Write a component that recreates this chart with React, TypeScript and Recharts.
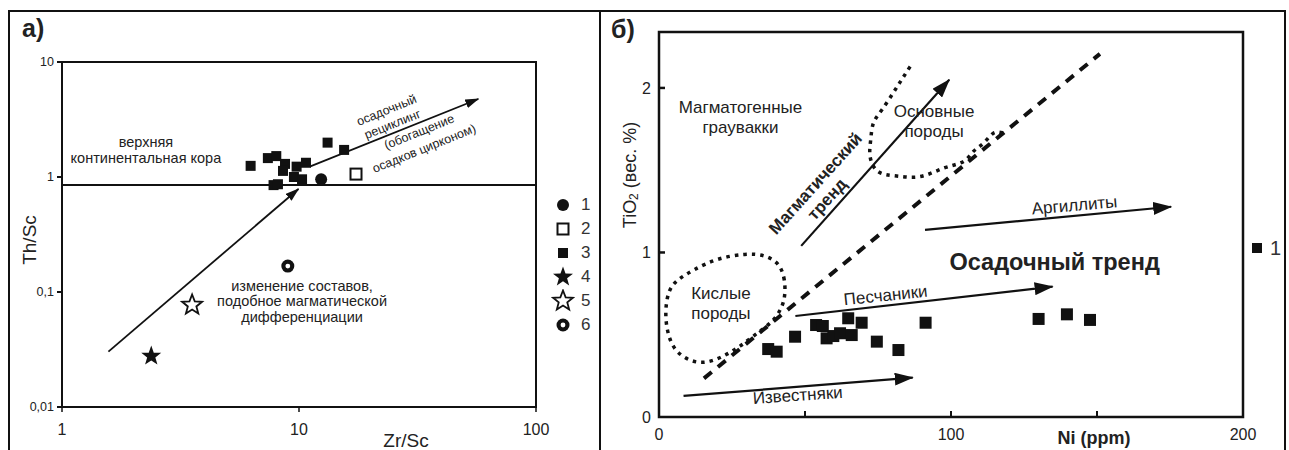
import React from 'react';
import { ScatterChart, Scatter, XAxis, YAxis, ReferenceLine, ReferenceArea } from 'recharts';

const INK = '#111';
const TXT = '#222';
const FONT = '"Liberation Sans", Arial, Helvetica, sans-serif';

// ---------- а) Th/Sc vs Zr/Sc ----------
const ZR_TICKS = [1, 10, 100];
const TH_TICKS = [0.01, 0.1, 1, 10];
const TH_LABELS = ['0,01', '0,1', '1', '10'];

const POINTS_1 = [{ x: 12.4, y: 0.955 }];
const POINTS_2 = [{ x: 17.4, y: 1.06 }];
const POINTS_3 = [
  { x: 6.25, y: 1.25 }, { x: 7.39, y: 1.46 }, { x: 8.02, y: 1.52 }, { x: 8.73, y: 1.3 },
  { x: 8.56, y: 1.13 }, { x: 9.77, y: 1.23 }, { x: 10.7, y: 1.33 }, { x: 9.52, y: 1.0 },
  { x: 10.3, y: 0.955 }, { x: 7.81, y: 0.85 }, { x: 8.15, y: 0.865 }, { x: 13.2, y: 1.99 },
  { x: 15.5, y: 1.72 },
];
const POINTS_4 = [{ x: 2.38, y: 0.0277 }];
const POINTS_5 = [{ x: 3.54, y: 0.077 }];
const POINTS_6 = [{ x: 8.97, y: 0.168 }];

const UPPER_CRUST = 0.85;
const ARROW_MAGMATIC_A = [{ x: 1.57, y: 0.0303 }, { x: 9.95, y: 0.787 }];
const ARROW_RECYCLING = [{ x: 11.1, y: 1.23 }, { x: 57.1, y: 4.77 }];

const NOTES_A = [
  { x: 2.26, y: 1.72, lines: ['верхняя', 'континентальная кора'], kind: 'mid', angle: 0 },
  { x: 23.4, y: 3.83, lines: ['осадочный'], kind: 'small', angle: -22 },
  { x: 24.8, y: 2.89, lines: ['рециклинг'], kind: 'small', angle: -22 },
  { x: 32.1, y: 2.48, lines: ['(обогащение'], kind: 'small', angle: -22 },
  { x: 33.7, y: 1.78, lines: ['осадков цирконом)'], kind: 'small', angle: -22 },
  { x: 10.3, y: 0.0835, lines: ['изменение составов,', 'подобное магматической', 'дифференциации'], kind: 'mid', angle: 0 },
];

const SERIES_A = [
  { name: '1', data: POINTS_1, symbol: 'circle' },
  { name: '2', data: POINTS_2, symbol: 'openSquare' },
  { name: '3', data: POINTS_3, symbol: 'square' },
  { name: '4', data: POINTS_4, symbol: 'star' },
  { name: '5', data: POINTS_5, symbol: 'openStar' },
  { name: '6', data: POINTS_6, symbol: 'target' },
];

// ---------- б) TiO2 vs Ni ----------
const NI_TICKS = [0, 50, 100, 150, 200];
const TIO2_TICKS = [0, 1, 2];

const SANDSTONES = [
  { x: 37.4, y: 0.413 }, { x: 40.3, y: 0.397 }, { x: 46.6, y: 0.488 }, { x: 53.8, y: 0.559 },
  { x: 56.1, y: 0.553 }, { x: 57.4, y: 0.478 }, { x: 59.7, y: 0.492 }, { x: 62.0, y: 0.509 },
  { x: 64.8, y: 0.6 }, { x: 69.4, y: 0.573 }, { x: 66.0, y: 0.498 }, { x: 74.6, y: 0.458 },
  { x: 82.0, y: 0.407 }, { x: 91.3, y: 0.573 }, { x: 130.0, y: 0.596 }, { x: 139.7, y: 0.624 },
  { x: 147.6, y: 0.59 },
];

const DIVIDE_LINE = [{ x: 15.4, y: 0.235 }, { x: 151, y: 2.207 }];
const ARROW_MAGMATIC_B = [{ x: 48.7, y: 1.04 }, { x: 99.4, y: 2.05 }];
const ARROW_MUDSTONES = [{ x: 91.1, y: 1.137 }, { x: 175.4, y: 1.278 }];
const ARROW_SANDSTONES = [{ x: 46.7, y: 0.614 }, { x: 134.8, y: 0.792 }];
const ARROW_LIMESTONES = [{ x: 8.4, y: 0.128 }, { x: 86.9, y: 0.239 }];

const MAFIC_FIELD = [
  { x: 86.0, y: 2.13 }, { x: 83.1, y: 2.05 }, { x: 80.2, y: 1.97 }, { x: 76.3, y: 1.866 },
  { x: 73.4, y: 1.785 }, { x: 72.5, y: 1.684 }, { x: 72.3, y: 1.582 }, { x: 75.1, y: 1.491 },
  { x: 81.4, y: 1.465 }, { x: 89.4, y: 1.461 }, { x: 97.4, y: 1.512 }, { x: 104.2, y: 1.552 },
  { x: 107.6, y: 1.613 }, { x: 111.1, y: 1.664 }, { x: 114.5, y: 1.725 }, { x: 117.8, y: 1.726 },
];
const FELSIC_FIELD = [
  { x: 43.2, y: 0.731 }, { x: 43.2, y: 0.833 }, { x: 41.4, y: 0.934 }, { x: 36.3, y: 0.985 },
  { x: 30.0, y: 0.995 }, { x: 19.8, y: 0.965 }, { x: 11.7, y: 0.894 }, { x: 6.1, y: 0.833 },
  { x: 3.2, y: 0.772 }, { x: 2.1, y: 0.65 }, { x: 2.6, y: 0.529 }, { x: 4.9, y: 0.407 },
  { x: 10.6, y: 0.336 }, { x: 16.3, y: 0.326 }, { x: 22.0, y: 0.367 }, { x: 27.7, y: 0.427 },
  { x: 33.5, y: 0.509 }, { x: 39.1, y: 0.579 }, { x: 42.0, y: 0.661 },
];

const NOTES_B = [
  { x: 27.9, y: 1.826, lines: ['Магматогенные', 'граувакки'], kind: 'text', angle: 0 },
  { x: 94.2, y: 1.8, lines: ['Основные', 'породы'], kind: 'text', angle: 0 },
  { x: 53.5, y: 1.42, lines: ['Магматический'], kind: 'bold', angle: -48 },
  { x: 57.5, y: 1.325, lines: ['тренд'], kind: 'bold', angle: -48 },
  { x: 142.3, y: 1.289, lines: ['Аргиллиты'], kind: 'text', angle: -5 },
  { x: 135.5, y: 0.944, lines: ['Осадочный тренд'], kind: 'big', angle: 0 },
  { x: 21.2, y: 0.691, lines: ['Кислые', 'породы'], kind: 'text', angle: 0 },
  { x: 77.6, y: 0.742, lines: ['Песчаники'], kind: 'text', angle: -6 },
  { x: 47.5, y: 0.134, lines: ['Известняки'], kind: 'text', angle: -4 },
];

const NOTE_STYLE: Record<string, { size: number; lh: number; weight: number }> = {
  small: { size: 12.5, lh: 14, weight: 400 },
  mid: { size: 14.5, lh: 15.5, weight: 400 },
  text: { size: 17, lh: 20, weight: 400 },
  bold: { size: 17, lh: 18, weight: 700 },
  big: { size: 23.5, lh: 26, weight: 700 },
};

// ---------- shapes ----------
const starPath = (cx: number, cy: number, R: number, r: number) => {
  let d = '';
  for (let i = 0; i < 10; i++) {
    const a = -Math.PI / 2 + (i * Math.PI) / 5;
    const rad = i % 2 ? r : R;
    d += (i ? 'L' : 'M') + (cx + rad * Math.cos(a)).toFixed(2) + ',' + (cy + rad * Math.sin(a)).toFixed(2);
  }
  return d + 'Z';
};

const SYMBOLS: Record<string, (cx: number, cy: number) => React.ReactElement> = {
  circle: (cx, cy) => <circle cx={cx} cy={cy} r={6} fill={INK} />,
  openSquare: (cx, cy) => (
    <rect x={cx - 5.5} y={cy - 5.5} width={11} height={11} fill="#fff" stroke={INK} strokeWidth={2} />
  ),
  square: (cx, cy) => <rect x={cx - 5} y={cy - 5} width={10} height={10} fill={INK} />,
  bigSquare: (cx, cy) => <rect x={cx - 6} y={cy - 6} width={12} height={12} fill={INK} />,
  star: (cx, cy) => <path d={starPath(cx, cy, 10.5, 4.3)} fill={INK} />,
  openStar: (cx, cy) => <path d={starPath(cx, cy, 10.5, 4.5)} fill="#fff" stroke={INK} strokeWidth={1.8} />,
  target: (cx, cy) => (
    <g>
      <circle cx={cx} cy={cy} r={6.5} fill={INK} />
      <circle cx={cx} cy={cy} r={2.4} fill="#fff" />
    </g>
  ),
};

const symbolShape = (kind: string) => (p: any) => SYMBOLS[kind](p.cx, p.cy);
const noShape = () => <g />;

const noteShape = (p: any) => {
  const n = p.payload;
  const st = NOTE_STYLE[n.kind];
  const { cx, cy } = p;
  const top = -((n.lines.length - 1) * st.lh) / 2;
  return (
    <text
      transform={n.angle ? `rotate(${n.angle} ${cx} ${cy})` : undefined}
      textAnchor="middle"
      fontFamily={FONT}
      fontSize={st.size}
      fontWeight={st.weight}
      fill={TXT}
    >
      {n.lines.map((l: string, i: number) => (
        <tspan key={i} x={cx} y={cy + top + i * st.lh} dy="0.35em">
          {l}
        </tspan>
      ))}
    </text>
  );
};

// ticks for panel б) point inward
const TM_X = 12;
const TM_Y = 8;
const NiTick = (props: any) => {
  const { x, y, payload } = props;
  const v = payload.value;
  const axisY = y - TM_X;
  return (
    <g>
      {v > 0 && v < 200 && <line x1={x} x2={x} y1={axisY} y2={axisY - 6} stroke={INK} strokeWidth={2} />}
      {v % 100 === 0 && (
        <text x={x} y={y} dy="0.71em" textAnchor="middle" fontFamily={FONT} fontSize={16} fill={TXT}>
          {v}
        </text>
      )}
    </g>
  );
};
const TiTick = (props: any) => {
  const { x, y, payload } = props;
  const v = payload.value;
  const axisX = x + TM_Y;
  return (
    <g>
      {v > 0 && <line x1={axisX} x2={axisX + 6} y1={y} y2={y} stroke={INK} strokeWidth={2.5} />}
      <text x={x} y={y} dy="0.35em" textAnchor="end" fontFamily={FONT} fontSize={16} fill={TXT}>
        {v}
      </text>
    </g>
  );
};

const arrowA = { stroke: INK, strokeWidth: 1.8, markerEnd: 'url(#headA)' };
const arrowB = { stroke: INK, strokeWidth: 2.2, markerEnd: 'url(#headB)' };
const dotted = { stroke: INK, strokeWidth: 3.5, strokeDasharray: '3.5 5', fill: 'none' };

const App: React.FC = () => {
  return (
    <div style={{ position: 'absolute', left: 0, top: 0, width: 1289, height: 450, overflow: 'hidden', background: '#fff', fontFamily: FONT }}>
      <svg width={0} height={0} style={{ position: 'absolute' }}>
        <defs>
          <marker id="headA" viewBox="0 0 14 9" refX={13} refY={4.5} markerWidth={14} markerHeight={9} orient="auto" markerUnits="userSpaceOnUse">
            <path d="M0,0 L14,4.5 L0,9 Z" fill={INK} />
          </marker>
          <marker id="headB" viewBox="0 0 19 13" refX={18} refY={6.5} markerWidth={19} markerHeight={13} orient="auto" markerUnits="userSpaceOnUse">
            <path d="M0,0 L19,6.5 L0,13 Z" fill={INK} />
          </marker>
        </defs>
      </svg>

      {/* panel frames */}
      <div style={{ position: 'absolute', left: 8, top: 10, width: 1278, height: 460, border: `2px solid ${INK}`, boxSizing: 'border-box' }} />
      <div style={{ position: 'absolute', left: 599, top: 10, width: 2, height: 460, background: INK }} />
      <div style={{ position: 'absolute', left: 22, top: 14, fontSize: 25, fontWeight: 700, color: TXT }}>а)</div>
      <div style={{ position: 'absolute', left: 611, top: 15, fontSize: 25, fontWeight: 700, color: TXT }}>б)</div>

      {/* ---- а) ---- */}
      <div style={{ position: 'absolute', left: 0, top: 0 }}>
        <ScatterChart width={600} height={450} margin={{ top: 62, right: 64, bottom: 0, left: 0 }}>
          <XAxis
            type="number"
            dataKey="x"
            scale="log"
            domain={[1, 100]}
            ticks={ZR_TICKS}
            allowDataOverflow
            height={43}
            axisLine={false}
            tickLine={{ stroke: INK, strokeWidth: 1.5 }}
            tickSize={5}
            tickMargin={12}
            tick={{ fontSize: 16, fill: TXT, fontFamily: FONT }}
            label={(p: any) => (
              <text x={p.viewBox.x + 344} y={440} textAnchor="middle" dominantBaseline="central" fontFamily={FONT} fontSize={19} fill={TXT}>
                Zr/Sc
              </text>
            )}
          />
          <YAxis
            type="number"
            dataKey="y"
            scale="log"
            domain={[0.01, 10]}
            ticks={TH_TICKS}
            allowDataOverflow
            width={62}
            axisLine={false}
            tickLine={{ stroke: INK, strokeWidth: 2 }}
            tickSize={5}
            tickMargin={3}
            tickFormatter={(v: number) => TH_LABELS[TH_TICKS.indexOf(v)] ?? String(v)}
            tick={{ fontSize: 12.5, fill: TXT, fontFamily: FONT }}
            label={(p: any) => {
              const x = p.viewBox.x + 29;
              const y = p.viewBox.y + 178;
              return (
                <text x={x} y={y} transform={`rotate(-90 ${x} ${y})`} textAnchor="middle" dominantBaseline="central" fontFamily={FONT} fontSize={19} fill={TXT}>
                  Th/Sc
                </text>
              );
            }}
          />
          <ReferenceArea x1={1} x2={100} y1={0.01} y2={10} fill="none" stroke={INK} strokeWidth={2} ifOverflow="visible" />
          <ReferenceLine y={UPPER_CRUST} stroke={INK} strokeWidth={2} />
          <ReferenceLine segment={ARROW_MAGMATIC_A} {...arrowA} />
          <ReferenceLine segment={ARROW_RECYCLING} {...arrowA} />
          {SERIES_A.map((s) => (
            <Scatter key={s.name} name={s.name} data={s.data} shape={symbolShape(s.symbol)} isAnimationActive={false} />
          ))}
          <Scatter data={NOTES_A} shape={noteShape} isAnimationActive={false} />
        </ScatterChart>
      </div>

      {/* legend а) */}
      <div style={{ position: 'absolute', left: 551, top: 193 }}>
        {SERIES_A.map((s) => (
          <div key={s.name} style={{ height: 24, display: 'flex', alignItems: 'center' }}>
            <svg width={24} height={24}>{SYMBOLS[s.symbol](12, 12)}</svg>
            <span style={{ fontSize: 17, color: '#333', marginLeft: 6 }}>{s.name}</span>
          </div>
        ))}
      </div>

      {/* ---- б) ---- */}
      <div style={{ position: 'absolute', left: 600, top: 0 }}>
        <ScatterChart width={689} height={450} margin={{ top: 32, right: 46, bottom: 0, left: 0 }}>
          <XAxis
            type="number"
            dataKey="x"
            domain={[0, 200]}
            ticks={NI_TICKS}
            allowDataOverflow
            height={33}
            axisLine={false}
            tickLine={false}
            tickSize={0}
            tickMargin={TM_X}
            tick={<NiTick />}
            label={(p: any) => (
              <text x={p.viewBox.x + 435} y={438} textAnchor="middle" dominantBaseline="central" fontFamily={FONT} fontSize={18} fontWeight={700} fill={TXT}>
                Ni (ppm)
              </text>
            )}
          />
          <YAxis
            type="number"
            dataKey="y"
            domain={[0, 2.34]}
            ticks={TIO2_TICKS}
            allowDataOverflow
            width={59}
            axisLine={false}
            tickLine={false}
            tickSize={0}
            tickMargin={TM_Y}
            tick={<TiTick />}
            label={(p: any) => {
              const x = p.viewBox.x + 30;
              const y = p.viewBox.y + 143;
              return (
                <text x={x} y={y} transform={`rotate(-90 ${x} ${y})`} textAnchor="middle" dominantBaseline="central" fontFamily={FONT} fontSize={18} fill={TXT}>
                  TiO<tspan fontSize={12} dy={4}>2</tspan>
                  <tspan dy={-4}> (вес. %)</tspan>
                </text>
              );
            }}
          />
          <ReferenceArea x1={0} x2={200} y1={0} y2={2.34} fill="none" stroke={INK} strokeWidth={2.5} ifOverflow="visible" />
          <ReferenceLine segment={DIVIDE_LINE} stroke={INK} strokeWidth={4} strokeDasharray="10 8" />
          <ReferenceLine segment={ARROW_MAGMATIC_B} {...arrowB} />
          <ReferenceLine segment={ARROW_MUDSTONES} {...arrowB} />
          <ReferenceLine segment={ARROW_SANDSTONES} {...arrowB} />
          <ReferenceLine segment={ARROW_LIMESTONES} {...arrowB} />
          <Scatter data={MAFIC_FIELD} line={dotted} lineJointType="natural" shape={noShape} isAnimationActive={false} />
          <Scatter data={FELSIC_FIELD} line={dotted} lineJointType="basisClosed" shape={noShape} isAnimationActive={false} />
          <Scatter name="1" data={SANDSTONES} shape={symbolShape('bigSquare')} isAnimationActive={false} />
          <Scatter data={NOTES_B} shape={noteShape} isAnimationActive={false} />
        </ScatterChart>
      </div>

      {/* legend б) */}
      <div style={{ position: 'absolute', left: 1250, top: 236, display: 'flex', alignItems: 'center', height: 24 }}>
        <svg width={14} height={24}>{SYMBOLS.square(7, 12)}</svg>
        <span style={{ fontSize: 20, color: '#333', marginLeft: 6 }}>1</span>
      </div>
    </div>
  );
};

export default App;
